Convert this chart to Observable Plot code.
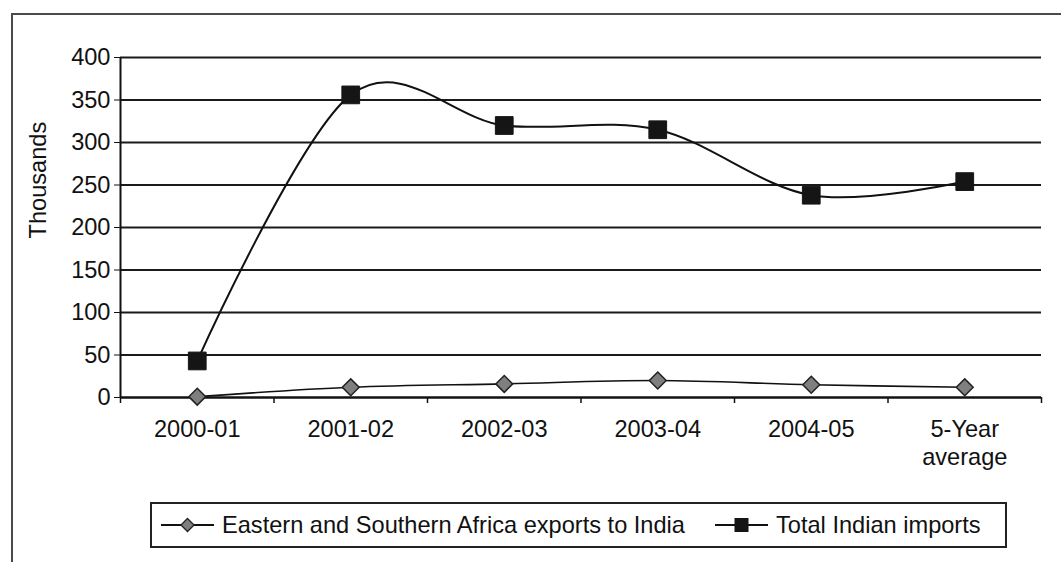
<!DOCTYPE html>
<html>
<head>
<meta charset="utf-8">
<script src="https://cdn.jsdelivr.net/npm/d3@7"></script>
<script src="https://cdn.jsdelivr.net/npm/@observablehq/plot@0.6"></script>
<style>
  html, body { margin: 0; padding: 0; background: #fff; }
  #wrap { position: relative; width: 1061px; height: 562px; overflow: hidden; background: #fff;
          font-family: "Liberation Sans", Arial, sans-serif; color: #111; }
  #frame { position: absolute; left: 11px; top: 13px; width: 1200px; height: 700px;
           border: 2px solid #4a4a4a; box-sizing: border-box; }
  #chart { position: absolute; left: 0; top: 0; }
  #legend { position: absolute; left: 150px; top: 502px; width: 857px; height: 46px;
            border: 2px solid #222; box-sizing: border-box; background: #fff; }
  .item { position: absolute; top: 0; height: 42px; display: flex; align-items: center; font-size: 23.6px; white-space: nowrap; }
  .item svg { margin-right: 8px; }
</style>
</head>
<body>
<div id="wrap">
  <div id="frame"></div>
  <div id="chart"></div>
  <div id="legend"></div>
</div>
<script>
const categories = ["2000-01", "2001-02", "2002-03", "2003-04", "2004-05", "5-Year\naverage"];
const exportsToIndia = [1, 12, 16, 20, 15, 12];
const totalImports = [43, 356, 320, 315, 238, 254];
const seriesNames = ["Eastern and Southern Africa exports to India", "Total Indian imports"];
const yTicks = [0, 50, 100, 150, 200, 250, 300, 350, 400];

const n = categories.length;
const exportsData = categories.map((c, i) => ({i, value: exportsToIndia[i]}));
const importsData = categories.map((c, i) => ({i, value: totalImports[i]}));
const boundaries = d3.range(n + 1).map(k => k - 0.5);

const chart = Plot.plot({
  width: 1061,
  height: 470,
  marginLeft: 120,
  marginRight: 20,
  marginTop: 57,
  marginBottom: 73,
  style: {fontFamily: "Liberation Sans, Arial, sans-serif", fontSize: "23.6px", color: "#111", background: "transparent"},
  x: {type: "linear", domain: [-0.5, n - 0.5]},
  y: {domain: [0, 400]},
  marks: [
    Plot.gridY(yTicks, {stroke: "#1a1a1a", strokeOpacity: 1, strokeWidth: 1.8}),
    Plot.axisY(yTicks, {tickSize: 6, tickPadding: 4, label: null, stroke: "#111", fill: "#111"}),
    Plot.axisX(boundaries, {tickSize: 6, tickFormat: () => "", label: null, stroke: "#111", strokeWidth: 1.5}),
    Plot.ruleX([-0.5], {stroke: "#111", strokeWidth: 2}),
    Plot.ruleY([0], {stroke: "#111", strokeWidth: 2}),
    Plot.text(categories, {x: (d, i) => i, frameAnchor: "bottom", lineAnchor: "top", dy: 19, fontSize: 23.6, lineHeight: 1.2, fill: "#111"}),
    Plot.text(["Thousands"], {frameAnchor: "left", rotate: -90, dx: -82, dy: 11, fontSize: 23.6, fill: "#111"}),
    Plot.line(exportsData, {x: "i", y: "value", curve: "cardinal", tension: 0, stroke: "#111", strokeWidth: 1.6}),
    Plot.line(importsData, {x: "i", y: "value", curve: "cardinal", tension: 0, stroke: "#111", strokeWidth: 2}),
    Plot.dot(exportsData, {x: "i", y: "value", symbol: "diamond2", r: 7.6, fill: "#7f7f7f", stroke: "#222", strokeWidth: 1.5}),
    Plot.dot(importsData, {x: "i", y: "value", symbol: "square", r: 10, fill: "#151515", stroke: "#151515", strokeWidth: 1})
  ]
});
document.getElementById("chart").appendChild(chart);

// Legend
const legend = document.getElementById("legend");
const items = [
  {name: seriesNames[0], left: 9, marker: "diamond"},
  {name: seriesNames[1], left: 563, marker: "square"}
];
for (const it of items) {
  const div = document.createElement("div");
  div.className = "item";
  div.style.left = it.left + "px";
  const svg = d3.create("svg").attr("width", 53).attr("height", 20);
  svg.append("line").attr("x1", 0).attr("x2", 53).attr("y1", 10).attr("y2", 10).attr("stroke", "#111").attr("stroke-width", 2);
  if (it.marker === "diamond") {
    svg.append("path").attr("d", d3.symbol(d3.symbolDiamond2, 110)()).attr("transform", "translate(26.5,10)")
      .attr("fill", "#7f7f7f").attr("stroke", "#222").attr("stroke-width", 1.3);
  } else {
    svg.append("rect").attr("x", 19.5).attr("y", 3).attr("width", 14).attr("height", 14).attr("fill", "#151515");
  }
  div.appendChild(svg.node());
  const span = document.createElement("span");
  span.textContent = it.name;
  div.appendChild(span);
  legend.appendChild(div);
}
</script>
</body>
</html>
